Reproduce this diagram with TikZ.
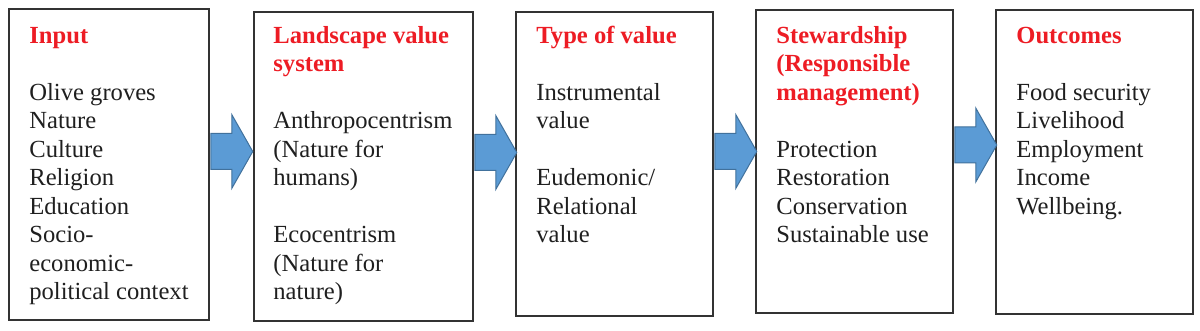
\documentclass[tikz,border=0pt]{standalone}
\usepackage{fontspec}
\setmainfont{Liberation Serif}
\usetikzlibrary{shapes,arrows,positioning}
\definecolor{titlered}{RGB}{237,28,36}
\definecolor{arrowblue}{RGB}{91,155,213}
\definecolor{arrowedge}{RGB}{65,113,156}
\definecolor{boxline}{RGB}{51,51,51}
\newcommand{\boxtitle}[1]{\textcolor{titlered}{\textbf{#1}}}

\begin{document}
\begin{tikzpicture}[x=0.5pt, y=-0.5pt,
        box/.style={draw=boxline, line width=0.75pt, inner sep=0pt},
        txt/.style={anchor=north west, align=left, inner sep=0pt, text=black!88,
            font=\fontsize{12.3}{14.25}\selectfont},
        blockarrow/.style={draw=arrowedge, fill=arrowblue, line width=0.5pt, line join=miter}]
            \useasboundingbox (0,0) rectangle (1200,331);

            % Boxes
            \node[box, minimum width=100pt, minimum height=155.5pt] (input) at (109,164.5) {};
            \node[box, minimum width=109.5pt, minimum height=154.5pt] (landscape) at (363.5,166.5) {};
            \node[box, minimum width=98.5pt, minimum height=152pt] (typeval) at (614.5,164) {};
            \node[box, minimum width=98.5pt, minimum height=151.5pt] (steward) at (854.5,161.5) {};
            \node[box, minimum width=98.5pt, minimum height=152pt] (outcomes) at (1094.5,162) {};

            % Box texts
            \node[txt] (inputtxt) at (29,23) {\strut\boxtitle{Input}\\[\baselineskip]
                Olive groves\\ Nature\\ Culture\\ Religion\\ Education\\ Socio-\\ economic-\\ political context};
            \node[txt] (landscapetxt) at (273,23) {\strut\boxtitle{Landscape value}\\ \boxtitle{system}\\[\baselineskip]
                Anthropocentrism\\ (Nature for\\ humans)\\[\baselineskip]
                Ecocentrism\\ (Nature for\\ nature)};
            \node[txt] (typevaltxt) at (536,23) {\strut\boxtitle{Type of value}\\[\baselineskip]
                Instrumental\\ value\\[\baselineskip]
                Eudemonic/\\ Relational\\ value};
            \node[txt] (stewardtxt) at (776,23) {\strut\boxtitle{Stewardship}\\ \boxtitle{(Responsible}\\ \boxtitle{management)}\\[\baselineskip]
                Protection\\ Restoration\\ Conservation\\ Sustainable use};
            \node[txt] (outcomestxt) at (1016,23) {\strut\boxtitle{Outcomes}\\[\baselineskip]
                Food security\\ Livelihood\\ Employment\\ Income\\ Wellbeing.};

            % Arrows
            \draw[blockarrow] ([xshift=0.5pt]input.east |- 0,133.5) -- ++(21,0) -- ++(0,-19) -- ++(21,37) -- ++(-21,37) -- ++(0,-19) -- ++(-21,0) -- cycle;
            \draw[blockarrow] ([xshift=0.5pt]landscape.east |- 0,134.5) -- ++(21,0) -- ++(0,-19) -- ++(21,37) -- ++(-21,37) -- ++(0,-19) -- ++(-21,0) -- cycle;
            \draw[blockarrow] ([xshift=0.5pt]typeval.east |- 0,133.5) -- ++(21,0) -- ++(0,-19) -- ++(21,37) -- ++(-21,37) -- ++(0,-19) -- ++(-21,0) -- cycle;
            \draw[blockarrow] ([xshift=0.5pt]steward.east |- 0,127) -- ++(21,0) -- ++(0,-19) -- ++(21,37) -- ++(-21,37) -- ++(0,-19) -- ++(-21,0) -- cycle;
        \end{tikzpicture}
\end{document}
